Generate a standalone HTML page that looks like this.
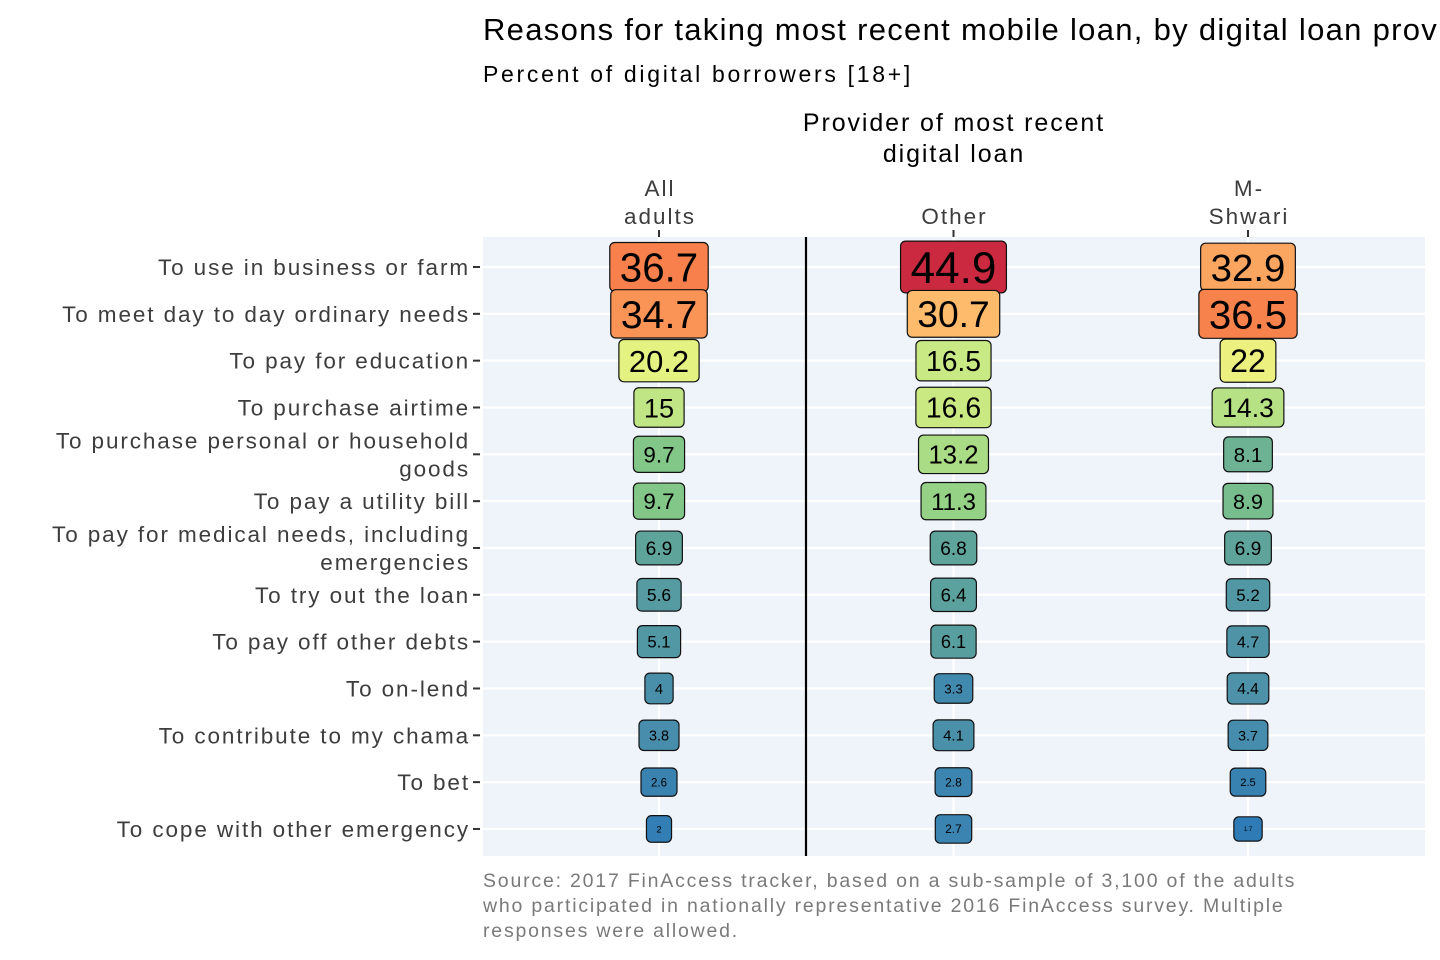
<!DOCTYPE html>
<html><head><meta charset="utf-8"><style>
html,body{margin:0;padding:0;background:#fff}
svg{display:block;font-family:"Liberation Sans",Arial,sans-serif}
</style></head><body>
<svg id="chart" width="1440" height="960" viewBox="0 0 1440 960">
<text x="483" y="40" font-size="31" letter-spacing="1.3" fill="#000">Reasons for taking most recent mobile loan, by digital loan provider</text>
<text x="483" y="82" font-size="23" letter-spacing="2.7" fill="#000">Percent of digital borrowers [18+]</text>
<text x="954" y="131" font-size="25" letter-spacing="1.9" text-anchor="middle" fill="#000"><tspan x="954">Provider of most recent</tspan><tspan x="954" dy="31">digital loan</tspan></text>
<rect x="483" y="237" width="942" height="619" fill="#eff4fb"/>
<g id="grid"></g>
<line x1="806" y1="237" x2="806" y2="856" stroke="#000" stroke-width="2.2"/>
<g id="xaxis"></g><g id="yaxis"></g><g id="labels"></g>
<text x="483" y="887" font-size="19.5" letter-spacing="1.8" fill="#7a7a7a"><tspan x="483">Source: 2017 FinAccess tracker, based on a sub-sample of 3,100 of the adults</tspan><tspan x="483" dy="25">who participated in nationally representative 2016 FinAccess survey. Multiple</tspan><tspan x="483" dy="25">responses were allowed.</tspan></text>
</svg>
<script>
const categories=["To use in business or farm","To meet day to day ordinary needs","To pay for education","To purchase airtime","To purchase personal or household|goods","To pay a utility bill","To pay for medical needs, including|emergencies","To try out the loan","To pay off other debts","To on-lend","To contribute to my chama","To bet","To cope with other emergency"];
const groups=["All|adults","Other","M-|Shwari"];
const allAdults=[36.7,34.7,20.2,15,9.7,9.7,6.9,5.6,5.1,4,3.8,2.6,2];
const other=[44.9,30.7,16.5,16.6,13.2,11.3,6.8,6.4,6.1,3.3,4.1,2.8,2.7];
const mShwari=[32.9,36.5,22,14.3,8.1,8.9,6.9,5.2,4.7,4.4,3.7,2.5,1.7];
const series=[allAdults,other,mShwari];
const NS="http://www.w3.org/2000/svg";
const xScale=i=>659+i*294.5;
const yScale=i=>267+i*46.83;
function mk(t,a,p){const e=document.createElementNS(NS,t);for(const k in a)e.setAttribute(k,a[k]);p.appendChild(e);return e;}
const stops=[[1.7,[47,123,182]],[4,[74,143,170]],[7,[95,165,154]],[10,[134,203,134]],[15,[191,229,133]],[21,[232,244,127]],[26,[254,224,122]],[31,[253,185,106]],[36.5,[248,130,76]],[45,[201,40,63]]];
function col(v){for(let i=0;i<stops.length-1;i++){const[a,c1]=stops[i],[b,c2]=stops[i+1];if(v<=b){const t=Math.max(0,(v-a)/(b-a));return `rgb(${c1.map((c,j)=>Math.round(c+(c2[j]-c)*t)).join(',')})`;}}return 'rgb(201,40,63)';}
const allVals=series.flat();const vmin=Math.min(...allVals);
const sizeScale=v=>6+5.8*Math.sqrt(v-vmin);
const grid=document.getElementById('grid'),xa=document.getElementById('xaxis'),ya=document.getElementById('yaxis'),lab=document.getElementById('labels');
categories.forEach((c,i)=>{const y=yScale(i);
 const g=mk('line',{x1:483,x2:1425,y1:y,y2:y,stroke:'#fff','stroke-width':2.2},grid);
 
 
 const tk=mk('line',{x1:473,x2:480,y1:y,y2:y,stroke:'#333','stroke-width':2},ya);
 
 
 const parts=c.split('|');
 const t=mk('text',{x:470,y:parts.length>1?y-6:y+8,'font-size':22.5,'letter-spacing':1.9,'text-anchor':'end',fill:'#3d3d3d'},ya);
 
 
 parts.forEach((p,k)=>{const s=mk('tspan',{x:470,dy:k?28:0},t);s.textContent=p;});
});
groups.forEach((gname,j)=>{const x=xScale(j);
 const g=mk('line',{x1:x,x2:x,y1:237,y2:856,stroke:'#fff','stroke-width':2.2},grid);
 
 
 const tk=mk('line',{x1:x,x2:x,y1:230,y2:237,stroke:'#333','stroke-width':2},xa);
 
 
 const parts=gname.split('|');
 const t=mk('text',{x:x,'font-size':22.5,'letter-spacing':2,'text-anchor':'middle',fill:'#3d3d3d',y:parts.length>1?196:224},xa);
 
 
 parts.forEach((p,k)=>{const s=mk('tspan',{x:x+1,dy:k?28:0},t);s.textContent=p;});
 series[j].forEach((v,i)=>{const y=yScale(i);const fs=sizeScale(v);
  const grp=mk('g',{},lab);
  
  
  const r=mk('rect',{rx:5,fill:col(v),stroke:'#111','stroke-width':1.2},grp);
  const t=mk('text',{x:x,y:y+fs*0.36,'font-size':fs,'text-anchor':'middle',fill:'#000'},grp);
  t.textContent=String(v);
  const w=t.getComputedTextLength();
  const h=fs*0.72+20;
  r.setAttribute('x',x-w/2-10);r.setAttribute('width',w+20);
  r.setAttribute('y',y-h/2);r.setAttribute('height',h);
 });
});
</script>
</body></html>
